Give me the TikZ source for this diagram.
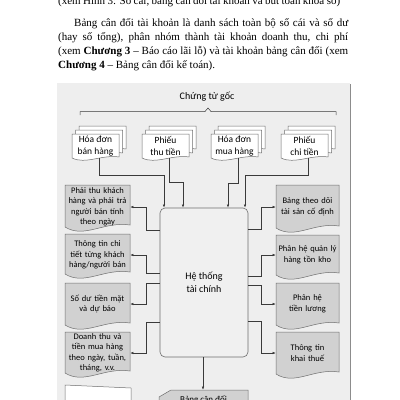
\documentclass[tikz,border=0pt]{standalone}
\usepackage{fontspec}
\setmainfont{Liberation Serif}
\newfontfamily\diagfont{Carlito}
\usetikzlibrary{arrows.meta,calc}
\definecolor{bgc}{HTML}{EEEEEE}
\definecolor{docgray}{HTML}{D1D1D1}
\definecolor{edgec}{HTML}{6E6E6E}
\definecolor{ink}{HTML}{3A3A3A}
\definecolor{framec}{HTML}{8C8C8C}
\definecolor{sysfill}{HTML}{F0F0F0}
% x, y (top), w, h (straight left side), fill, wave factor
\newcommand\wdoc[6]{%
  \filldraw[docedge, fill=#5] (#1,#2) -- (#1+#3,#2) -- (#1+#3,#2+#4-2*#6)
    .. controls (#1+0.6*#3,#2+#4-6*#6) and (#1+0.3*#3,#2+#4+12*#6) .. (#1,#2+#4) -- cycle;}
% stack of three sheets: x, y of front sheet
\newcommand\wstack[2]{%
  \wdoc{#1+7}{#2-8}{47}{24}{white}{0.55}
  \wdoc{#1+3.5}{#2-4}{47}{24}{white}{0.55}
  \wdoc{#1}{#2}{47}{24}{white}{0.55}}
\tikzset{
  docedge/.style={draw=edgec, line width=0.5pt},
  conn/.style={draw=ink, line width=0.6pt, -{Latex[length=3.2pt,width=2.6pt]}},
  plain/.style={draw=ink, line width=0.6pt},
  doctext/.style={inner sep=0pt, align=center, text=black,
    font=\diagfont\fontsize{8.5}{10.5}\selectfont},
  leftdoc/.style={doctext, minimum width=65pt, text width=65pt},
  rightdoc/.style={doctext, minimum width=63pt, text width=63pt},
  stacktext/.style={inner sep=0pt, align=center, minimum width=47pt, minimum height=24pt,
    font=\diagfont\fontsize{9.5}{12}\selectfont},
  sysbox/.style={draw=edgec, fill=sysfill, line width=0.6pt, rounded corners=5pt,
    minimum width=88pt, minimum height=149pt, align=center,
    font=\diagfont\fontsize{10}{13}\selectfont},
  para/.style={inner sep=0pt, anchor=base west, font=\fontsize{11}{13}\selectfont},
}
\begin{document}
\begin{tikzpicture}[x=1pt,y=-1pt]
\useasboundingbox (0,0) rectangle (400,400);
\clip (0,0) rectangle (400,400);
\fill[white] (0,0) rectangle (400,400);
% paragraph text
\node[para] (p0) at (58,4) {\makebox[282pt][s]{(xem Hình 3: Sổ cái, bảng cân đối tài khoản và bút toán khóa sổ)}};
\node[para] (p1) at (74,26) {\makebox[274pt][s]{Bảng cân đối tài khoản là danh sách toàn bộ sổ cái và số dư}};
\node[para] (p2) at (58,40) {\makebox[290pt][s]{(hay số tổng), phân nhóm thành tài khoản doanh thu, chi phí}};
\node[para] (p3) at (58,54) {\makebox[290pt][s]{(xem \textbf{Chương 3} – Báo cáo lãi lỗ) và tài khoản bảng cân đối (xem}};
\node[para] (p4) at (58,68) {\textbf{Chương 4} – Bảng cân đối kế toán).};
% frame
\fill[bgc] (57,83) rectangle (350,410);
\draw[framec, line width=1.6pt] (350.5,84) -- (350.5,410);
% heading and brace
\node[inner sep=0pt, font=\diagfont\fontsize{10}{12}\selectfont] (head) at (207,97) {Chứng từ gốc};
\draw[plain, line width=0.5pt] (80,115) -- (80,111.5) -- (205,111.5) -- (208,108) -- (211,111.5) -- (336,111.5) -- (336,115);
% stacks
\wstack{72}{134}
\wstack{142}{134}
\wstack{211}{134}
\wstack{281}{134}
\node[stacktext] (s1) at (95.5,146) {Hóa đơn\\bán hàng};
\node[stacktext] (s2) at (165.5,146) {Phiếu\\thu tiền};
\node[stacktext] (s3) at (234.5,146) {Hóa đơn\\mua hàng};
\node[stacktext] (s4) at (304.5,146) {Phiếu\\chi tiền};
% central box
\node[sysbox] (sys) at (204,282.5) {Hệ thống\\tài chính};
% left docs
\wdoc{65}{185}{65}{42}{docgray}{1}
\wdoc{65}{234}{65}{40}{docgray}{1}
\wdoc{65}{283}{65}{42}{docgray}{1}
\wdoc{65}{332}{65}{41}{docgray}{1}
\node[leftdoc] (d1) at (97.5,207) {Phải thu khách\\hàng và phải trả\\người bán tính\\theo ngày};
\node[leftdoc] (d2) at (97.5,255) {Thông tin chi\\tiết từng khách\\hàng/người bán};
\node[leftdoc] (d3) at (97.5,304) {Số dư tiền mặt\\và dự báo};
\node[leftdoc] (d4) at (97.5,353) {Doanh thu và\\tiền mua hàng\\theo ngày, tuần,\\tháng, v.v.};
% right docs
\wdoc{276}{185}{63}{43}{docgray}{1}
\wdoc{276}{235}{63}{40}{docgray}{1}
\wdoc{276}{283}{63}{42}{docgray}{1}
\wdoc{276}{332}{63}{42}{docgray}{1}
\node[rightdoc] (r1) at (307.5,207) {Bảng theo dõi\\tài sản cố định};
\node[rightdoc] (r2) at (307.5,255) {Phân hệ quản lý\\hàng tồn kho};
\node[rightdoc] (r3) at (307.5,304) {Phân hệ\\tiền lương};
\node[rightdoc] (r4) at (307.5,353) {Thông tin\\khai thuế};
% bottom shapes
\filldraw[docedge, fill=white] (65,410) -- (65,385) -- (131,388) -- (131,410);
\filldraw[docedge, fill=docgray] (159,410) -- (159,397) -- (171,390) -- (248,390) -- (248,410);
\node[inner sep=0pt, minimum width=89pt, minimum height=19pt, font=\diagfont\fontsize{9}{11}\selectfont] (bal) at (203.5,399.5) {Bảng cân đối};
% connectors from stacks
\draw[conn] ([xshift=3.5pt]s1.south) -- ++(0,17) -| ([xshift=-40pt]sys.north);
\draw[conn] ([xshift=3.5pt]s2.south) -- ++(0,24) -| ([xshift=-21pt]sys.north);
\draw[conn] ([xshift=3.5pt]s3.south) -- ++(0,25) -| ([xshift=24pt]sys.north);
\draw[conn] ([xshift=3.5pt]s4.south) -- ++(0,17) -| ([xshift=41pt]sys.north);
% connectors to left docs
\draw[conn] (sys.west |- 0,230) -- ++(-13,0) |- (d1.east);
\draw[conn] (sys.west |- 0,273) -- ++(-13,0) |- (d2.east);
\draw[conn] (sys.west |- 0,283) -- ++(-13,0) |- (d3.east);
\draw[conn] (sys.west |- 0,322) -- ++(-13,0) |- (d4.east);
% connectors to right docs
\draw[conn] (sys.east |- 0,229) -- ++(13,0) |- (r1.west);
\draw[conn] (sys.east |- 0,276) -- ++(13,0) |- (r2.west);
\draw[conn] (sys.east |- 0,285) -- ++(13,0) |- (r3.west);
\draw[conn] (sys.east |- 0,321) -- ++(13,0) |- (r4.west);
% to balance sheet
\draw[conn] ([xshift=-1pt]sys.south) -- ([xshift=-1pt]sys.south |- bal.north);
\end{tikzpicture}
\end{document}
